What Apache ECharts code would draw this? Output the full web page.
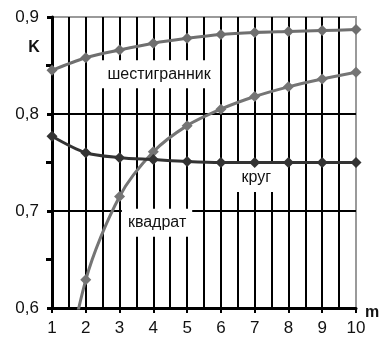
<!DOCTYPE html>
<html>
<head>
<meta charset="utf-8">
<script src="https://cdn.jsdelivr.net/npm/echarts@6/dist/echarts.min.js"></script>
<style>html,body{margin:0;padding:0;background:#fff;}#c{width:386px;height:338px;}</style>
</head>
<body>
<div id="c"></div>
<script>
// data
const mValues = [1, 2, 3, 4, 5, 6, 7, 8, 9, 10];
const hexagon = [0.845, 0.858, 0.866, 0.873, 0.878, 0.882, 0.884, 0.885, 0.886, 0.887];
const circle = [0.46, 0.629, 0.715, 0.761, 0.788, 0.805, 0.818, 0.828, 0.836, 0.843];
const square = [0.777, 0.760, 0.755, 0.753, 0.751, 0.750, 0.750, 0.750, 0.750, 0.750];
const yTicks = ['0,6', '0,7', '0,8', '0,9'];
const xTicks = ['1','2','3','4','5','6','7','8','9','10'];
const annotations = [
  {text: 'шестигранник', x: 4.17, y: 0.841},
  {text: 'квадрат', x: 4.11, y: 0.688},
  {text: 'круг', x: 7.05, y: 0.734}
];

const chart = echarts.init(document.getElementById('c'));
const FONT = '"Liberation Sans", Arial, sans-serif';
const pair = arr => mValues.map((m, i) => [m, arr[i]]);

const option = {
  animation: false,
  grid: {left: 52, right: 30, top: 17, bottom: 30, show: true, borderColor: '#9a9a9a', borderWidth: 2, backgroundColor: 'transparent'},
  xAxis: {
    type: 'value', min: 1, max: 10, interval: 1,
    axisLine: {show: true, onZero: false, lineStyle: {color: '#000', width: 3}},
    axisTick: {show: true, length: 5, lineStyle: {color: '#000', width: 2}},
    axisLabel: {fontFamily: FONT, fontSize: 17, color: '#111', margin: 12,
      formatter: v => xTicks[mValues.indexOf(v)] || ''},
    splitLine: {show: true, showMinLine: false, showMaxLine: false, lineStyle: {color: '#000', width: 2}},
    minorTick: {show: false, splitNumber: 2},
    minorSplitLine: {show: true, lineStyle: {color: '#000', width: 2}}
  },
  yAxis: {
    type: 'value', min: 0.6, max: 0.9, interval: 0.1,
    axisLine: {show: true, onZero: false, lineStyle: {color: '#000', width: 3}},
    axisTick: {show: true, length: 5, lineStyle: {color: '#000', width: 3}},
    minorTick: {show: true, splitNumber: 2, length: 6, lineStyle: {color: '#000', width: 3}},
    axisLabel: {fontFamily: FONT, fontSize: 17, color: '#111', margin: 13,
      formatter: v => yTicks[Math.round((v - 0.6) * 10)] || ''},
    splitLine: {show: true, showMinLine: false, showMaxLine: false, lineStyle: {color: '#000', width: 2}}
  },
  series: [
    {name: 'шестигранник', type: 'line', data: pair(hexagon), smooth: 0.3, clip: true,
      symbol: 'diamond', symbolSize: 11, lineStyle: {color: '#6f6f6f', width: 3},
      itemStyle: {color: '#6f6f6f'}, z: 3},
    {name: 'круг', type: 'line', data: pair(circle), smooth: 0.3, clip: true,
      symbol: 'diamond', symbolSize: 11, lineStyle: {color: '#757575', width: 3},
      itemStyle: {color: '#757575'}, z: 3},
    {name: 'квадрат', type: 'line', data: pair(square), smooth: 0.3, clip: true,
      symbol: 'diamond', symbolSize: 11, lineStyle: {color: '#333', width: 3},
      itemStyle: {color: '#333'}, z: 4}
  ]
};
chart.setOption(option);

const graphics = annotations.map(a => {
  const p = chart.convertToPixel({gridIndex: 0}, [a.x, a.y]);
  return {type: 'text', x: p[0], y: p[1], z: 1,
    style: {text: a.text, fontFamily: FONT, fontSize: 16, fill: '#111',
      align: 'center', verticalAlign: 'middle',
      backgroundColor: '#fff', padding: [6, 6]}};
});
graphics.push({type: 'text', x: 34, y: 48, style: {text: 'K', fontFamily: FONT, fontSize: 16, fontWeight: 'bold', fill: '#111', align: 'center', verticalAlign: 'middle'}});
graphics.push({type: 'text', x: 372, y: 313, style: {text: 'm', fontFamily: FONT, fontSize: 16, fontWeight: 'bold', fill: '#111', align: 'center', verticalAlign: 'middle'}});
chart.setOption({graphic: graphics});
</script>
</body>
</html>
